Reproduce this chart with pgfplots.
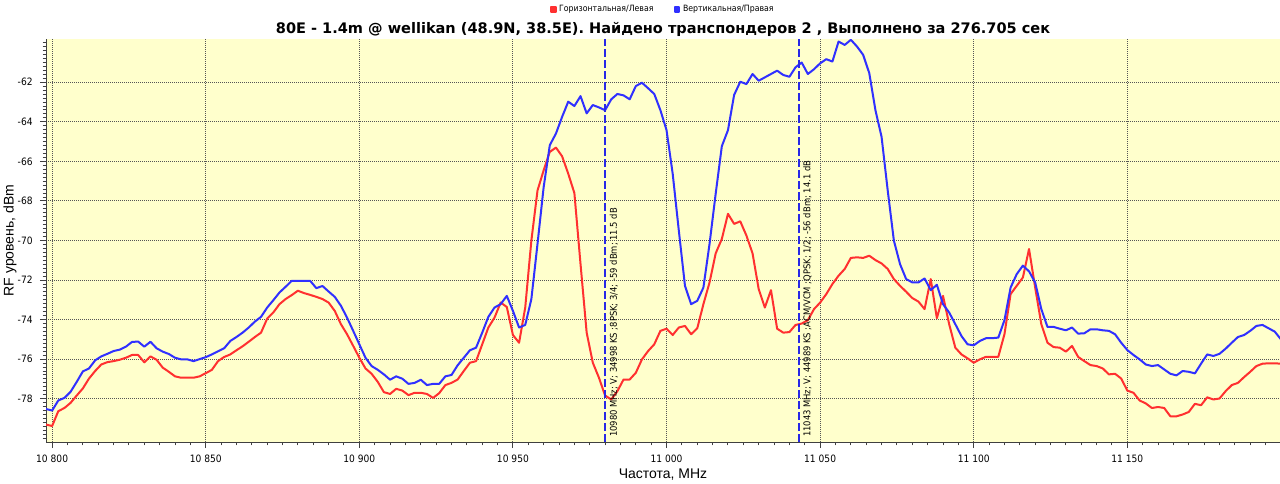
\documentclass[border=0pt]{standalone}
\usepackage{pgfplots}
\usepackage{pgfplotstable}
\pgfplotsset{compat=1.18}
\usepackage{fontspec}
\setmainfont{DejaVu Sans Condensed}
\newfontfamily\arialfont{Liberation Sans}
\newfontfamily\titlefont{DejaVu Sans}

\definecolor{bgyellow}{RGB}{255,255,204}
\definecolor{hred}{RGB}{255,48,48}
\definecolor{vblue}{RGB}{48,48,255}
\definecolor{mkblue}{RGB}{40,40,230}
\definecolor{gridgray}{RGB}{85,85,85}

% f [MHz], H (red), V (blue) [dBm]
\pgfplotstableread{
f H V
10798 -79.31 -78.52
10800 -79.38 -78.60
10802 -78.63 -78.09
10804 -78.47 -77.96
10806 -78.21 -77.65
10808 -77.84 -77.15
10810 -77.48 -76.62
10812 -76.98 -76.47
10814 -76.60 -76.06
10816 -76.27 -75.86
10818 -76.15 -75.73
10820 -76.10 -75.59
10822 -76.03 -75.52
10824 -75.93 -75.37
10826 -75.79 -75.13
10828 -75.79 -75.11
10830 -76.16 -75.37
10832 -75.86 -75.12
10834 -76.03 -75.45
10836 -76.43 -75.62
10838 -76.64 -75.74
10840 -76.87 -75.93
10842 -76.94 -76.01
10844 -76.94 -76.01
10846 -76.94 -76.10
10848 -76.87 -76.00
10850 -76.71 -75.90
10852 -76.54 -75.76
10854 -76.10 -75.60
10856 -75.89 -75.45
10858 -75.76 -75.08
10860 -75.55 -74.88
10862 -75.35 -74.66
10864 -75.12 -74.40
10866 -74.88 -74.10
10868 -74.66 -73.86
10870 -73.95 -73.39
10872 -73.64 -73.02
10874 -73.22 -72.63
10876 -72.96 -72.34
10878 -72.76 -72.04
10880 -72.54 -72.04
10882 -72.66 -72.04
10884 -72.75 -72.04
10886 -72.85 -72.41
10888 -72.96 -72.30
10890 -73.14 -72.58
10892 -73.56 -72.85
10894 -74.23 -73.30
10896 -74.74 -73.90
10898 -75.33 -74.57
10900 -75.93 -75.25
10902 -76.47 -75.93
10904 -76.74 -76.35
10906 -77.15 -76.54
10908 -77.67 -76.77
10910 -77.76 -77.04
10912 -77.50 -76.87
10914 -77.59 -76.99
10916 -77.82 -77.25
10918 -77.70 -77.20
10920 -77.70 -77.04
10922 -77.76 -77.31
10924 -77.96 -77.25
10926 -77.72 -77.25
10928 -77.31 -76.87
10930 -77.20 -76.80
10932 -77.03 -76.31
10934 -76.60 -75.93
10936 -76.18 -75.55
10938 -76.10 -75.42
10940 -75.25 -74.66
10942 -74.40 -73.86
10944 -73.90 -73.39
10946 -73.14 -73.22
10948 -73.36 -72.80
10950 -74.78 -73.56
10952 -75.17 -74.40
10954 -73.39 -74.27
10956 -70.00 -72.96
10958 -67.47 -70.17
10960 -66.45 -67.30
10962 -65.52 -65.18
10964 -65.30 -64.59
10966 -65.74 -63.75
10968 -66.62 -62.98
10970 -67.60 -63.20
10972 -71.19 -62.70
10974 -74.66 -63.57
10976 -76.18 -63.15
10978 -76.94 -63.27
10980 -77.84 -63.41
10982 -78.04 -62.86
10984 -77.62 -62.59
10986 -77.03 -62.66
10988 -77.03 -62.86
10990 -76.69 -62.19
10992 -76.01 -62.02
10994 -75.59 -62.30
10996 -75.25 -62.59
10998 -74.57 -63.41
11000 -74.46 -64.42
11002 -74.78 -66.62
11004 -74.40 -69.50
11006 -74.32 -72.29
11008 -74.74 -73.22
11010 -74.44 -73.05
11012 -73.22 -72.38
11014 -72.12 -70.17
11016 -70.65 -67.63
11018 -69.92 -65.23
11020 -68.65 -64.42
11022 -69.16 -62.64
11024 -69.03 -61.97
11026 -69.75 -62.09
11028 -70.65 -61.58
11030 -72.46 -61.92
11032 -73.39 -61.75
11034 -72.51 -61.58
11036 -74.46 -61.41
11038 -74.66 -61.63
11040 -74.63 -61.72
11042 -74.27 -61.24
11044 -74.20 -61.00
11046 -74.03 -61.58
11048 -73.47 -61.34
11050 -73.14 -61.04
11052 -72.71 -60.83
11054 -72.20 -60.95
11056 -71.78 -59.94
11058 -71.44 -60.11
11060 -70.88 -59.85
11062 -70.85 -60.19
11064 -70.88 -60.61
11066 -70.77 -61.54
11068 -70.99 -63.41
11070 -71.16 -64.76
11072 -71.44 -67.47
11074 -71.95 -70.00
11076 -72.29 -71.19
11078 -72.59 -71.95
11080 -72.91 -72.12
11082 -73.09 -72.12
11084 -73.47 -71.92
11086 -71.95 -72.51
11088 -73.93 -72.24
11090 -72.80 -73.22
11092 -74.23 -73.64
11094 -75.42 -74.23
11096 -75.76 -74.83
11098 -75.96 -75.25
11100 -76.18 -75.30
11102 -76.01 -75.08
11104 -75.88 -74.94
11106 -75.88 -74.94
11108 -75.88 -74.91
11110 -74.74 -74.03
11112 -72.71 -72.38
11114 -72.29 -71.70
11116 -71.87 -71.27
11118 -70.43 -71.56
11120 -72.38 -72.12
11122 -74.23 -73.47
11124 -75.17 -74.37
11126 -75.39 -74.37
11128 -75.42 -74.46
11130 -75.62 -74.54
11132 -75.33 -74.40
11134 -75.89 -74.71
11136 -76.10 -74.69
11138 -76.30 -74.49
11140 -76.35 -74.49
11142 -76.47 -74.54
11144 -76.77 -74.57
11146 -76.74 -74.74
11148 -76.98 -75.17
11150 -77.59 -75.54
11152 -77.70 -75.79
11154 -78.09 -76.01
11156 -78.24 -76.27
11158 -78.47 -76.35
11160 -78.42 -76.30
11162 -78.47 -76.52
11164 -78.89 -76.74
11166 -78.89 -76.82
11168 -78.80 -76.60
11170 -78.67 -76.64
11172 -78.26 -76.72
11174 -78.33 -76.23
11176 -77.93 -75.76
11178 -78.04 -75.84
11180 -77.99 -75.73
11182 -77.62 -75.47
11184 -77.31 -75.17
11186 -77.20 -74.88
11188 -76.91 -74.78
11190 -76.64 -74.57
11192 -76.35 -74.32
11194 -76.23 -74.27
11196 -76.21 -74.44
11198 -76.21 -74.61
11200 -76.23 -75.00
}\spectrum

\begin{document}
\begin{tikzpicture}
\path[use as bounding box] (-34.5pt,-30.75pt) rectangle (925.5pt,331.5pt);
\begin{axis}[
  at={(0,0)}, anchor=south west,
  scale only axis, width=925.5pt, height=302.25pt,
  xmin=10798, xmax=11199.7, ymin=-80.19, ymax=-59.81,
  scaled x ticks=false, scaled y ticks=false,
  axis x line*=bottom, axis y line*=left,
  axis line style={-, draw=black!75, line width=0.75pt},
  axis background/.style={fill=bgyellow},
  xtick={10800,10850,...,11150},
  xticklabels={10 800,10 850,10 900,10 950,11 000,11 050,11 100,11 150},
  ytick={-78,-76,...,-62},
  yticklabels={-78,-76,-74,-72,-70,-68,-66,-64,-62},
  minor xtick={10800,10805,...,11195},
  minor ytick={-80,-79.8,...,-59.8},
  tick align=outside,
  major tick length=4.5pt, minor tick length=2.6pt,
  tick style={draw=black!75, line width=0.75pt},
  grid=major,
  major grid style={draw=gridgray, line width=0.75pt, dash pattern=on 0.75pt off 0.75pt},
  tick label style={font=\fontsize{7.6}{9}\selectfont},
  xticklabel style={anchor=center, yshift=-8pt},
  yticklabel style={anchor=east, xshift=-2pt},
  title={\titlefont\bfseries 80E - 1.4m @ wellikan (48.9N, 38.5E). Найдено транспондеров 2 , Выполнено за 276.705 сек},
  title style={font=\fontsize{10.9}{13}\selectfont, at={(axis description cs:0.5,1)}, anchor=center, yshift=1.5pt},
  xlabel={\arialfont Частота, MHz},
  ylabel={\arialfont RF уровень, dBm},
  label style={font=\fontsize{10.5}{12}\selectfont},
  xlabel style={at={(axis description cs:0.5,0)}, anchor=center, yshift=-24.75pt},
  ylabel style={at={(axis description cs:-0.0292,0.5)}, anchor=center},
  legend columns=2,
  legend style={at={(axis description cs:0.5,1)}, anchor=center, yshift=22.3pt,
    draw=none, fill=none, font=\fontsize{6.5}{8}\selectfont,
    /tikz/every even column/.append style={column sep=13pt}},
  legend image code/.code={\fill[#1] (0pt,-1.8pt) rectangle (3.6pt,1.8pt);},
  every axis plot/.append style={line width=1.5pt, line join=round},
]
\addplot[hred] table[x=f, y=H] {\spectrum};
\addlegendentry{Горизонтальная/Левая}
\addplot[vblue] table[x=f, y=V] {\spectrum};
\addlegendentry{Вертикальная/Правая}

\addplot[mkblue, forget plot, dash pattern=on 6pt off 2.25pt] coordinates {(10980,-80.19) (10980,-59.81)};
\addplot[mkblue, forget plot, dash pattern=on 6pt off 2.25pt] coordinates {(11043,-80.19) (11043,-59.81)};

\node[rotate=90, anchor=north west, inner sep=0pt, font=\fontsize{7}{8}\selectfont]
  at (axis cs:10981.4,-79.95) {10980 MHz; V; 34998 KS ;8PSK; 3/4; -59 dBm; 11.5 dB};
\node[rotate=90, anchor=north west, inner sep=0pt, font=\fontsize{7}{8}\selectfont]
  at (axis cs:11044.4,-79.95) {11043 MHz; V; 44989 KS ;ACM/VCM ;QPSK; 1/2; -56 dBm; 14.1 dB};
\end{axis}
\end{tikzpicture}
\end{document}
